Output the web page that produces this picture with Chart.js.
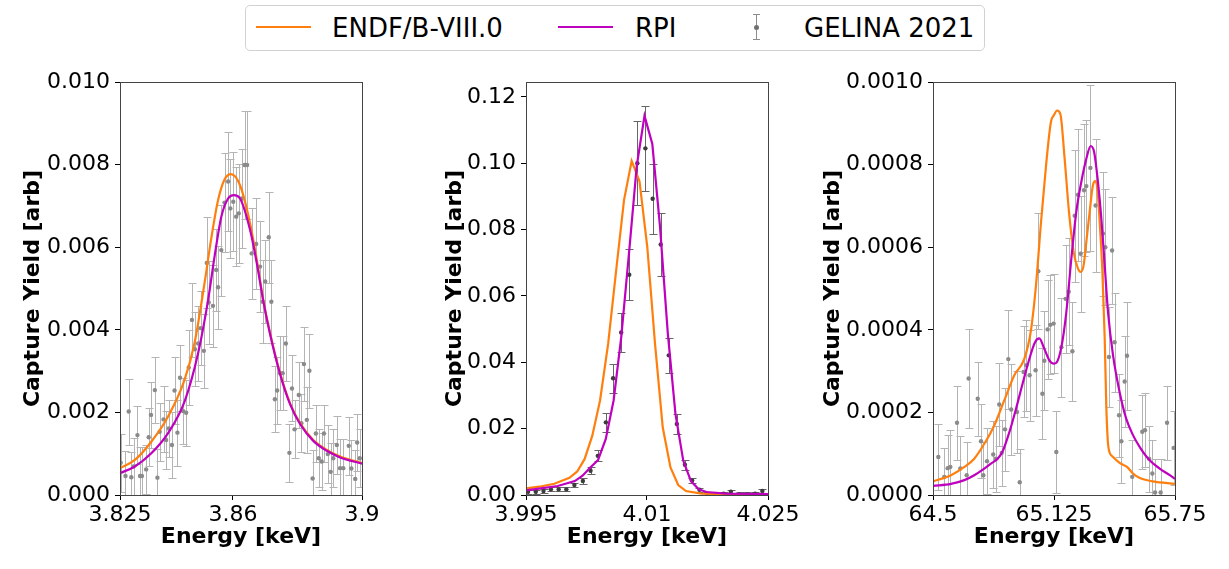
<!DOCTYPE html>
<html lang="en">

<head>
    <meta charset="UTF-8">
    <title>Capture yield resonances</title>
    <script src="https://cdn.jsdelivr.net/npm/chart.js@4.4.1/dist/chart.umd.min.js"></script>
    <style>
        * {
            margin: 0;
            padding: 0;
            box-sizing: border-box;
        }

        body {
            width: 1229px;
            height: 569px;
            background: #fff;
            position: relative;
            overflow: hidden;
            font-family: 'DejaVu Sans', sans-serif;
        }

        canvas {
            position: absolute;
            top: 60px;
        }

        #legend {
            position: absolute;
            left: 245px;
            top: 5px;
            width: 740px;
            height: 46px;
            border: 1px solid #d2d2d2;
            border-radius: 5px;
        }

        #legend .line {
            position: absolute;
            top: 20px;
            width: 55px;
            height: 2px;
        }

        #legend .txt {
            position: absolute;
            top: 0;
            line-height: 44px;
            font-size: 26px;
            color: #000;
            white-space: nowrap;
        }

        #legend .bar {
            position: absolute;
            left: 510px;
            top: 8px;
            width: 1px;
            height: 26px;
            background: #8c8c8c;
        }

        #legend .cap {
            position: absolute;
            left: 507px;
            width: 7px;
            height: 1px;
            background: #8c8c8c;
        }

        #legend .dot {
            position: absolute;
            left: 508px;
            top: 19px;
            width: 5px;
            height: 5px;
            border-radius: 50%;
            background: #707070;
        }
    </style>
</head>

<body>
    <div id="legend">
        <div class="line" style="left:10px;background:#ff7f0e"></div>
        <div class="txt" style="left:86px">ENDF/B-VIII.0</div>
        <div class="line" style="left:312px;background:#bf00bf"></div>
        <div class="txt" style="left:389px">RPI</div>
        <div class="bar"></div>
        <div class="cap" style="top:8px"></div>
        <div class="cap" style="top:33px"></div>
        <div class="dot"></div>
        <div class="txt" style="left:558px">GELINA 2021</div>
    </div>

    <canvas id="c1" width="406" height="509" style="left:10px"></canvas>
    <canvas id="c2" width="406" height="509" style="left:416px"></canvas>
    <canvas id="c3" width="426" height="509" style="left:803px"></canvas>

    <script>
        // ---- panel 1 : 3.86 keV ----
        const xTicks1 = [3.825, 3.86, 3.9];
        const xLabels1 = ["3.825", "3.86", "3.9"];
        const yTicks1 = [0, 0.002, 0.004, 0.006, 0.008, 0.010];

        const gelina1E = [3.8252, 3.8267, 3.8277, 3.8285, 3.8292, 3.8304, 3.8312, 3.8318, 3.8331, 3.8339,
            3.8346, 3.8358, 3.8366, 3.8373, 3.8385, 3.8393, 3.8401, 3.8411, 3.8419, 3.8428,
            3.8436, 3.8446, 3.8455, 3.8463, 3.8473, 3.8482, 3.8492, 3.8500, 3.8510, 3.8519,
            3.8525, 3.8538, 3.8548, 3.8554, 3.8564, 3.8574, 3.8585, 3.8592, 3.8601, 3.8610,
            3.8618, 3.8627, 3.8636, 3.8644, 3.8658, 3.8672, 3.8684, 3.8692, 3.8700, 3.8711,
            3.8719, 3.8730, 3.8737, 3.8746, 3.8754, 3.8764, 3.8775, 3.8783, 3.8791, 3.8804,
            3.8812, 3.8820, 3.8829, 3.8837, 3.8847, 3.8857, 3.8866, 3.8875, 3.8882, 3.8894,
            3.8903, 3.8911, 3.8922, 3.8932, 3.8942, 3.8959, 3.8967, 3.8979, 3.8985, 3.8993];
        const gelina1Y = [0.00078, 0.00046, 0.00202, 0.00043, 0.00069, 0.00145, 0.00046, 0.00046, 0.00062, 0.00140,
            0.00194, 0.00254, 0.00042, 0.00153, 0.00183, 0.00133, 0.00161, 0.00121, 0.00253, 0.00151,
            0.00284, 0.00203, 0.00199, 0.00309, 0.00424, 0.00353, 0.00367, 0.00404, 0.00349, 0.00562,
            0.00466, 0.00458, 0.00545, 0.00503, 0.00593, 0.00708, 0.00759, 0.00694, 0.00710, 0.00674,
            0.00682, 0.00718, 0.00799, 0.00799, 0.00585, 0.00608, 0.00553, 0.00468, 0.00517, 0.00624,
            0.00468, 0.00232, 0.00253, 0.00295, 0.00295, 0.00367, 0.00102, 0.00258, 0.00159, 0.00242,
            0.00174, 0.00317, 0.00182, 0.00301, 0.00040, 0.00149, 0.00089, 0.00081, 0.00149, 0.00099,
            0.00056, 0.00089, 0.00121, 0.00065, 0.00065, 0.00119, 0.00064, 0.00039, 0.00127, 0.00089];
        const gelina1Err = [0.0007, 0.0006, 0.0008, 0.0006, 0.0007, 0.0007, 0.0007, 0.0007, 0.0006, 0.0007,
            0.0008, 0.0008, 0.0007, 0.0007, 0.0008, 0.0007, 0.0007, 0.0008, 0.0008, 0.0008,
            0.0008, 0.0008, 0.0008, 0.0009, 0.0009, 0.0009, 0.0009, 0.0009, 0.0009, 0.0011,
            0.0010, 0.0010, 0.0010, 0.0010, 0.0011, 0.0012, 0.0012, 0.0012, 0.0012, 0.0012,
            0.0012, 0.0012, 0.0013, 0.0013, 0.0011, 0.0011, 0.0011, 0.0010, 0.0010, 0.0011,
            0.0010, 0.0008, 0.0008, 0.0009, 0.0009, 0.0009, 0.0007, 0.0008, 0.0007, 0.0008,
            0.0007, 0.0009, 0.0008, 0.0009, 0.0007, 0.0007, 0.0007, 0.0007, 0.0007, 0.0007,
            0.0007, 0.0007, 0.0007, 0.0007, 0.0007, 0.0007, 0.0007, 0.0007, 0.0007, 0.0007];

        const endf1E = [3.825, 3.8296, 3.8347, 3.8399, 3.8450, 3.8481, 3.8512, 3.8533, 3.8554, 3.8574,
            3.8594, 3.8622, 3.8653, 3.8674, 3.8694, 3.8715, 3.8746, 3.8777, 3.8808, 3.8849,
            3.8891, 3.8932, 3.9];
        const endf1Y = [0.00065, 0.00085, 0.00129, 0.00190, 0.00279, 0.00368, 0.00513, 0.00622, 0.00714, 0.00764,
            0.00777, 0.00750, 0.00658, 0.00569, 0.00472, 0.00392, 0.00295, 0.00222, 0.00174, 0.00133,
            0.00109, 0.00093, 0.00077];
        const rpi1E = [3.825, 3.8296, 3.8347, 3.8399, 3.8450, 3.8492, 3.8523, 3.8543, 3.8564, 3.8585,
            3.8603, 3.8622, 3.8653, 3.8674, 3.8694, 3.8715, 3.8746, 3.8777, 3.8808, 3.8849,
            3.8891, 3.8932, 3.9];
        const rpi1Y = [0.00053, 0.00069, 0.00101, 0.00150, 0.00226, 0.00343, 0.00472, 0.00577, 0.00674, 0.00718,
            0.00726, 0.00718, 0.00642, 0.00561, 0.00470, 0.00390, 0.00293, 0.00220, 0.00172, 0.00131,
            0.00107, 0.00091, 0.00076];

        // ---- panel 2 : 4.01 keV ----
        const xTicks2 = [3.995, 4.01, 4.025];
        const xLabels2 = ["3.995", "4.01", "4.025"];
        const yTicks2 = [0, 0.02, 0.04, 0.06, 0.08, 0.10, 0.12];

        const gelina2E = [3.99525, 3.99621, 3.99717, 3.99809, 3.99905, 4.0000, 4.0010, 4.00205, 4.0030, 4.0039,
            4.0049, 4.0058, 4.0068, 4.0078, 4.0088, 4.0098, 4.0107, 4.0117, 4.0127, 4.0137,
            4.0147, 4.0156, 4.0165, 4.0175, 4.0185, 4.0195, 4.0204, 4.0215, 4.0224, 4.0234, 4.0243];
        const gelina2Y = [0.0010, 0.0010, 0.0012, 0.0017, 0.0017, 0.0017, 0.0030, 0.0042, 0.0073, 0.0118,
            0.0219, 0.0352, 0.0490, 0.0664, 0.1000, 0.1045, 0.0893, 0.0755, 0.0421, 0.0214,
            0.0091, 0.0044, 0.0016, 0.0004, 0.0002, 0.0004, 0.0010, 0.0002, 0.0002, 0.0004, 0.0012];
        const gelina2Err = [0.0006, 0.0006, 0.0006, 0.0006, 0.0006, 0.0006, 0.0007, 0.0008, 0.0010, 0.0017,
            0.0029, 0.0044, 0.0060, 0.0077, 0.0126, 0.0129, 0.0106, 0.0094, 0.0052, 0.0029,
            0.0015, 0.0008, 0.0006, 0.0006, 0.0006, 0.0006, 0.0006, 0.0006, 0.0006, 0.0006, 0.0006];

        const endf2E = [3.995, 3.99663, 3.99851, 4.00039, 4.00135, 4.00226, 4.00322, 4.00418, 4.00519, 4.00614,
            4.00715, 4.0081, 4.00907, 4.01003, 4.01099, 4.01195, 4.01291, 4.01387, 4.01483, 4.01674,
            4.02063, 4.025];
        const endf2Y = [0.0020, 0.0025, 0.0034, 0.0052, 0.0071, 0.0108, 0.0179, 0.0285, 0.0457, 0.0669,
            0.0889, 0.1007, 0.0946, 0.0749, 0.0457, 0.0204, 0.0083, 0.0030, 0.0012, 0.0004,
            0.0002, 0.0002];
        const rpi2E = [3.995, 3.99683, 3.99893, 4.00105, 4.00201, 4.00297, 4.00393, 4.00489, 4.00586, 4.00681,
            4.00777, 4.00873, 4.00969, 4.01066, 4.01161, 4.01258, 4.01353, 4.0145, 4.01545, 4.01641,
            4.01737, 4.01979, 4.025];
        const rpi2Y = [0.0014, 0.0020, 0.0027, 0.0042, 0.0058, 0.0083, 0.0105, 0.0169, 0.0285, 0.0477,
            0.0729, 0.0992, 0.1143, 0.1058, 0.0810, 0.0487, 0.0244, 0.0103, 0.0042, 0.0017,
            0.0009, 0.0004, 0.0003];

        // ---- panel 3 : 65.1 keV ----
        const xTicks3 = [64.5, 65.125, 65.75];
        const xLabels3 = ["64.5", "65.125", "65.75"];
        const yTicks3 = [0, 0.0002, 0.0004, 0.0006, 0.0008, 0.0010];

        const gelina3E = [64.5275, 64.5585, 64.5758, 64.5895, 64.624, 64.641, 64.674, 64.684, 64.731, 64.748,
            64.760, 64.779, 64.811, 64.825, 64.842, 64.855, 64.872, 64.889, 64.904, 64.934,
            64.948, 64.968, 64.982, 64.999, 65.030, 65.044, 65.065, 65.075, 65.092, 65.106,
            65.123, 65.137, 65.163, 65.185, 65.201, 65.220, 65.232, 65.249, 65.263, 65.280,
            65.292, 65.313, 65.340, 65.378, 65.390, 65.409, 65.425, 65.438, 65.461, 65.473,
            65.490, 65.502, 65.529, 65.581, 65.595, 65.616, 65.633, 65.647, 65.676, 65.709, 65.743];
        const gelina3Y = [0.92, 0.44, 0.65, 0.68, 1.75, 0.64, 0.48, 2.82, 2.33, 1.30,
            0.48, 0.82, 0.98, 0.88, 2.19, 1.02, 1.59, 3.29, 2.07, 2.01,
            0.31, 2.98, 3.14, 2.90, 3.02, 5.42, 2.45, 3.25, 4.01, 4.12,
            4.15, 1.04, 3.58, 4.75, 4.92, 3.48, 6.76, 7.27, 5.84, 7.38,
            7.48, 7.92, 7.01, 6.33, 6.00, 3.34, 5.92, 3.70, 1.93, 1.30,
            2.75, 3.37, 0.44, 1.53, 1.57, 0.88, 0.52, 0.06, 0.06, 1.75, 1.14].map(v => v * 1e-4);
        const gelina3Err = [0.8, 0.7, 0.8, 0.9, 0.9, 0.8, 0.8, 1.2, 0.9, 0.9,
            0.8, 0.8, 0.8, 0.8, 1.0, 0.8, 1.0, 1.2, 1.1, 1.0,
            0.8, 1.1, 1.1, 1.1, 1.1, 1.4, 1.1, 1.2, 1.2, 1.2,
            1.2, 1.0, 1.2, 1.3, 1.3, 1.2, 1.6, 1.6, 1.4, 1.6,
            1.6, 2.0, 1.6, 1.5, 1.4, 1.2, 1.3, 1.2, 1.0, 1.0,
            1.1, 1.3, 0.9, 0.9, 0.9, 0.8, 0.8, 0.8, 0.8, 0.9, 0.9].map(v => v * 1e-4);

        const endf3E = [64.5, 64.593, 64.662, 64.713, 64.765, 64.817, 64.868, 64.920, 64.972, 65.006,
            65.032, 65.058, 65.084, 65.109, 65.125, 65.1405, 65.1577, 65.180, 65.2025, 65.2267,
            65.249, 65.263, 65.278, 65.292, 65.309, 65.326, 65.338, 65.349, 65.361, 65.375,
            65.387, 65.395, 65.406, 65.426, 65.464, 65.502, 65.533, 65.568, 65.636, 65.75];
        const endf3Y = [0.33, 0.48, 0.68, 0.88, 1.24, 1.69, 2.29, 2.90, 3.30, 3.99,
            5.08, 6.61, 7.98, 9.03, 9.20, 9.31, 9.23, 8.14, 6.85, 5.88,
            5.48, 5.40, 5.56, 6.13, 6.85, 7.50, 7.60, 7.42, 6.61, 5.40,
            3.79, 2.17, 1.16, 0.94, 0.78, 0.68, 0.52, 0.41, 0.33, 0.27].map(v => v * 1e-4);
        const rpi3E = [64.5, 64.593, 64.662, 64.713, 64.765, 64.799, 64.834, 64.860, 64.895, 64.929,
            64.963, 64.998, 65.027, 65.049, 65.075, 65.101, 65.124, 65.137, 65.163, 65.1887,
            65.2145, 65.240, 65.266, 65.292, 65.3145, 65.332, 65.352, 65.3695, 65.387, 65.404,
            65.430, 65.464, 65.498, 65.533, 65.568, 65.619, 65.671, 65.723, 65.75];
        const rpi3Y = [0.22, 0.27, 0.36, 0.48, 0.64, 0.76, 0.88, 1.06, 1.53, 2.09,
            2.70, 3.30, 3.70, 3.79, 3.54, 3.26, 3.18, 3.20, 3.58, 4.43,
            5.72, 6.85, 7.58, 8.14, 8.45, 8.31, 7.58, 6.69, 5.56, 4.43,
            3.38, 2.49, 1.85, 1.45, 1.16, 0.84, 0.64, 0.48, 0.39].map(v => v * 1e-4);

        Chart.defaults.font.family = "'DejaVu Sans', sans-serif";
        Chart.defaults.color = "#000";

        const pts = (xs, ys) => xs.map((x, i) => ({ x: x, y: ys[i] }));

        // error bars + frame around the plot area
        const errorBars = {
            id: "errorBars",
            beforeDatasetsDraw(chart) {
                const opts = chart.options.plugins.errorBars;
                const { ctx, chartArea, scales } = chart;
                ctx.save();
                ctx.beginPath();
                ctx.rect(chartArea.left, chartArea.top, chartArea.width, chartArea.height);
                ctx.clip();
                ctx.strokeStyle = opts.color;
                ctx.lineWidth = 1;
                opts.x.forEach((e, i) => {
                    const px = Math.round(scales.x.getPixelForValue(e)) + 0.5;
                    const lo = Math.round(scales.y.getPixelForValue(opts.y[i] - opts.err[i])) + 0.5;
                    const hi = Math.round(scales.y.getPixelForValue(opts.y[i] + opts.err[i])) + 0.5;
                    ctx.beginPath();
                    ctx.moveTo(px, lo); ctx.lineTo(px, hi);
                    ctx.moveTo(px - 4, lo); ctx.lineTo(px + 4, lo);
                    ctx.moveTo(px - 4, hi); ctx.lineTo(px + 4, hi);
                    ctx.stroke();
                });
                ctx.restore();
            },
            afterDraw(chart) {
                const { ctx, chartArea } = chart;
                ctx.save();
                ctx.strokeStyle = "#444";
                ctx.lineWidth = 1;
                ctx.strokeRect(Math.round(chartArea.left) + 0.5, Math.round(chartArea.top) + 0.5,
                    Math.round(chartArea.width), Math.round(chartArea.height));
                ctx.restore();
            }
        };

        function makePanel(id, p) {
            return new Chart(document.getElementById(id), {
                type: "scatter",
                plugins: [errorBars],
                data: {
                    datasets: [
                        {
                            data: pts(p.gE, p.gY),
                            pointRadius: 2.2,
                            pointBackgroundColor: p.dot,
                            pointBorderWidth: 0,
                            order: 3
                        },
                        {
                            data: pts(p.oE, p.oY),
                            showLine: true,
                            borderColor: "#ff7f0e",
                            borderWidth: 2.2,
                            pointRadius: 0,
                            cubicInterpolationMode: p.smooth ? "monotone" : "default",
                            tension: 0,
                            order: 2
                        },
                        {
                            data: pts(p.rE, p.rY),
                            showLine: true,
                            borderColor: "#bf00bf",
                            borderWidth: 2.2,
                            pointRadius: 0,
                            cubicInterpolationMode: p.smooth ? "monotone" : "default",
                            tension: 0,
                            order: 1
                        }
                    ]
                },
                options: {
                    responsive: false,
                    animation: false,
                    layout: { padding: { left: 0, right: 54, top: 22, bottom: 0 } },
                    plugins: {
                        legend: { display: false },
                        tooltip: { enabled: false },
                        errorBars: { x: p.gE, y: p.gY, err: p.gErr, color: p.bar }
                    },
                    scales: {
                        x: {
                            type: "linear",
                            min: p.xTicks[0],
                            max: p.xTicks[p.xTicks.length - 1],
                            afterBuildTicks: s => { s.ticks = p.xTicks.map(v => ({ value: v })); },
                            afterFit: s => { s.height = 74; },
                            ticks: {
                                autoSkip: false,
                                maxRotation: 0,
                                padding: 2,
                                font: { size: 22 },
                                callback: (v, i) => p.xLabels[i]
                            },
                            grid: { drawOnChartArea: false, tickLength: 5, tickColor: "#000" },
                            border: { display: false },
                            title: {
                                display: true,
                                text: "Energy [keV]",
                                font: { size: 22, weight: "bold", lineHeight: 1.2 },
                                padding: { top: 0, bottom: 19 }
                            }
                        },
                        y: {
                            type: "linear",
                            min: 0,
                            max: p.yMax,
                            afterBuildTicks: s => { s.ticks = p.yTicks.map(v => ({ value: v })); },
                            afterFit: s => { s.width = p.axisW; },
                            ticks: {
                                autoSkip: false,
                                padding: 5,
                                font: { size: 22 },
                                callback: v => v.toFixed(p.dec)
                            },
                            grid: { drawOnChartArea: false, tickLength: 5, tickColor: "#000" },
                            border: { display: false },
                            title: {
                                display: true,
                                text: "Capture Yield [arb]",
                                font: { size: 22, weight: "bold", lineHeight: 1.2 },
                                padding: { top: p.titlePad, bottom: p.titlePad }
                            }
                        }
                    }
                }
            });
        }

        makePanel("c1", {
            gE: gelina1E, gY: gelina1Y, gErr: gelina1Err, oE: endf1E, oY: endf1Y, rE: rpi1E, rY: rpi1Y,
            xTicks: xTicks1, xLabels: xLabels1, yTicks: yTicks1, yMax: 0.010, dec: 3,
            axisW: 110, titlePad: 10, smooth: true, dot: "#8a8a8a", bar: "#b4b4b4"
        });
        makePanel("c2", {
            gE: gelina2E, gY: gelina2Y, gErr: gelina2Err, oE: endf2E, oY: endf2Y, rE: rpi2E, rY: rpi2Y,
            xTicks: xTicks2, xLabels: xLabels2, yTicks: yTicks2, yMax: 0.1245, dec: 2,
            axisW: 110, titlePad: 26, smooth: false, dot: "#3c3c3c", bar: "#666666"
        });
        makePanel("c3", {
            gE: gelina3E, gY: gelina3Y, gErr: gelina3Err, oE: endf3E, oY: endf3Y, rE: rpi3E, rY: rpi3Y,
            xTicks: xTicks3, xLabels: xLabels3, yTicks: yTicks3, yMax: 0.0010, dec: 4,
            axisW: 130, titlePad: 17, smooth: true, dot: "#8a8a8a", bar: "#b4b4b4"
        });
    </script>
</body>

</html>
